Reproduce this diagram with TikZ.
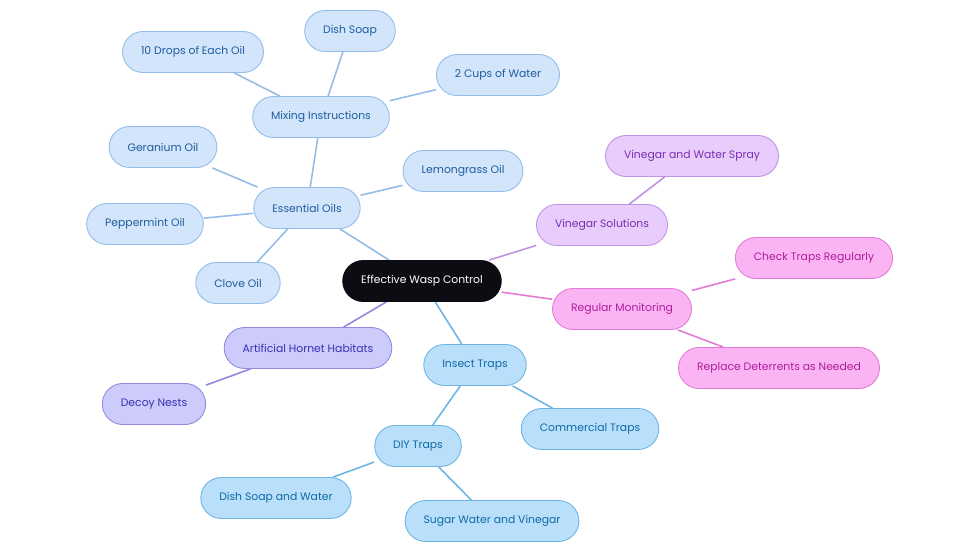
\documentclass[tikz,border=0pt]{standalone}
\usepackage{fontspec}
\setmainfont{Poppins}
\usetikzlibrary{backgrounds}

\definecolor{rootfill}{HTML}{0B0D12}
\definecolor{oilfill}{HTML}{D3E5FB}
\definecolor{oildraw}{HTML}{93BCE8}
\definecolor{oiltext}{HTML}{1E5C9E}
\definecolor{trapfill}{HTML}{B9DFFB}
\definecolor{trapdraw}{HTML}{6DB6E3}
\definecolor{traptext}{HTML}{0F6AA3}
\definecolor{vinfill}{HTML}{E8CDFC}
\definecolor{vindraw}{HTML}{BE93E6}
\definecolor{vintext}{HTML}{7A2EB0}
\definecolor{monfill}{HTML}{FBB4F3}
\definecolor{mondraw}{HTML}{E27BD4}
\definecolor{montext}{HTML}{AE1E9E}
\definecolor{hornfill}{HTML}{CDCBFC}
\definecolor{horndraw}{HTML}{9089DE}
\definecolor{horntext}{HTML}{3A30B0}

\tikzset{
  % one pill-shaped box per idea
  idea/.style={rounded corners=0.41cm, minimum height=0.82cm, inner xsep=0.37cm,
    font=\fontsize{6.15}{8}\selectfont, line width=0.5pt},
  rootidea/.style={idea, fill=rootfill, draw=rootfill, text=white},
  oilidea/.style={idea, fill=oilfill, draw=oildraw, text=oiltext},
  trapidea/.style={idea, fill=trapfill, draw=trapdraw, text=traptext},
  vinidea/.style={idea, fill=vinfill, draw=vindraw, text=vintext},
  monidea/.style={idea, fill=monfill, draw=mondraw, text=montext},
  hornidea/.style={idea, fill=hornfill, draw=horndraw, text=horntext},
  link/.style={line width=0.9pt},
}

\begin{document}
\begin{tikzpicture}

  \useasboundingbox (0,0) rectangle (19.6,-11.06);

  \node [rootidea] at (8.44,-5.62) (root) {Effective Wasp Control};

  % essential oils branch
  \node [oilidea] at (6.14,-4.16) (oils) {Essential Oils};
  \node [oilidea] at (6.42,-2.34) (mixing) {Mixing Instructions};
  \node [oilidea] at (3.86,-1.04) (drops) {10 Drops of Each Oil};
  \node [oilidea] at (7.00,-0.62) (soap) {Dish Soap};
  \node [oilidea] at (9.96,-1.50) (water) {2 Cups of Water};
  \node [oilidea] at (3.26,-2.94) (geranium) {Geranium Oil};
  \node [oilidea] at (9.26,-3.42) (lemongrass) {Lemongrass Oil};
  \node [oilidea] at (2.90,-4.48) (peppermint) {Peppermint Oil};
  \node [oilidea] at (4.76,-5.66) (clove) {Clove Oil};

  % vinegar branch
  \node [vinidea] at (12.04,-4.50) (vinegar) {Vinegar Solutions};
  \node [vinidea] at (13.84,-3.12) (spray) {Vinegar and Water Spray};

  % monitoring branch
  \node [monidea] at (12.44,-6.18) (monitor) {Regular Monitoring};
  \node [monidea] at (16.28,-5.16) (check) {Check Traps Regularly};
  \node [monidea] at (15.58,-7.36) (replace) {Replace Deterrents as Needed};

  % hornet branch
  \node [hornidea] at (6.16,-6.96) (hornet) {Artificial Hornet Habitats};
  \node [hornidea] at (3.08,-8.08) (decoy) {Decoy Nests};

  % traps branch
  \node [trapidea] at (9.50,-7.30) (traps) {Insect Traps};
  \node [trapidea] at (11.80,-8.58) (commercial) {Commercial Traps};
  \node [trapidea] at (8.36,-8.92) (diy) {DIY Traps};
  \node [trapidea] at (5.52,-9.96) (soapwater) {Dish Soap and Water};
  \node [trapidea] at (9.84,-10.42) (sugar) {Sugar Water and Vinegar};

  % links sit behind the boxes
  \begin{scope}[on background layer]
    \draw [link, oildraw] (root) -- (oils) (oils) -- (mixing) (mixing) -- (drops)
      (mixing) -- (soap) (mixing) -- (water) (oils) -- (geranium)
      (oils) -- (lemongrass) (oils) -- (peppermint) (oils) -- (clove);
    \draw [link, vindraw] (root) -- (vinegar) (vinegar) -- (spray);
    \draw [link, mondraw] (root) -- (monitor) (monitor) -- (check) (monitor) -- (replace);
    \draw [link, horndraw] (root) -- (hornet) (hornet) -- (decoy);
    \draw [link, trapdraw] (root) -- (traps) (traps) -- (commercial) (traps) -- (diy)
      (diy) -- (soapwater) (diy) -- (sugar);
  \end{scope}

\end{tikzpicture}
\end{document}
